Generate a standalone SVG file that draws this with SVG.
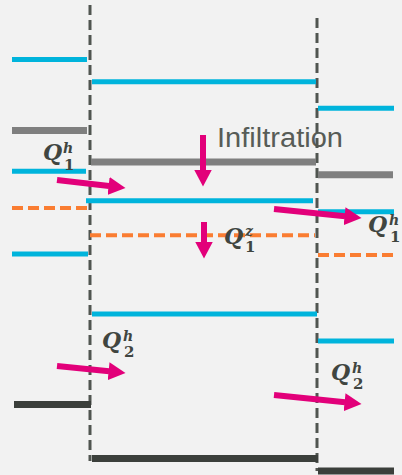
<svg xmlns="http://www.w3.org/2000/svg" width="402" height="475" viewBox="0 0 402 475">
<style>
.cy{stroke:#00B4DC;stroke-width:5;fill:none}
.gr{stroke:#7F7F7F;stroke-width:7;fill:none}
.dk{stroke:#3B3F3B;stroke-width:7;fill:none}
.or{stroke:#FA7D32;stroke-width:4;stroke-dasharray:11 5;fill:none}
.vd{stroke:#505550;stroke-width:3;stroke-dasharray:10 5;fill:none}
.ar{stroke:#E2007A;stroke-width:6;fill:none;marker-end:url(#ah)}
.q{font-family:"DejaVu Serif",serif;font-style:italic;font-weight:bold;font-size:22px;fill:#404540}
.s{font-family:"DejaVu Serif",serif;font-style:italic;font-weight:bold;font-size:14px;fill:#404540}
.n{font-family:"DejaVu Serif",serif;font-weight:bold;font-size:15px;fill:#404540}
.t{font-family:"Liberation Sans",Arial,sans-serif;font-size:27px;fill:#575C57}
</style>
<defs>
<marker id="ah" markerUnits="userSpaceOnUse" markerWidth="18" markerHeight="18" refX="0.5" refY="9" orient="auto" viewBox="0 0 18 18">
<path d="M0,0 L17,9 L0,18 z" fill="#E2007A"/>
</marker>
</defs>
<rect width="402" height="475" fill="#F2F2F2"/>
<g id="infiltration-label">
<text class="t" x="217" y="147" textLength="126" lengthAdjust="spacingAndGlyphs">Infiltration</text>
</g>
<g id="boundaries">
<line class="vd" x1="90" y1="5" x2="90" y2="461"/>
<line class="vd" x1="317" y1="18" x2="317" y2="471"/>
</g>
<g id="left-cell">
<line class="cy" x1="12" y1="59.5" x2="87" y2="59.5"/>
<line class="gr" x1="12" y1="130.5" x2="87" y2="130.5"/>
<line class="cy" x1="12" y1="171.3" x2="86" y2="171.3"/>
<line class="or" x1="12" y1="208" x2="87" y2="208"/>
<line class="cy" x1="12" y1="254" x2="88" y2="254"/>
<line class="dk" x1="14" y1="404.5" x2="91" y2="404.5"/>
</g>
<g id="middle-cell">
<line class="cy" x1="92" y1="81.7" x2="316" y2="81.7"/>
<line class="gr" x1="91" y1="162" x2="316" y2="162"/>
<line class="cy" x1="86" y1="200.7" x2="313" y2="200.7"/>
<line class="or" x1="90" y1="235.3" x2="315" y2="235.3"/>
<line class="cy" x1="92" y1="314" x2="317" y2="314"/>
<line class="dk" x1="92" y1="458.5" x2="318" y2="458.5"/>
</g>
<g id="right-cell">
<line class="cy" x1="318" y1="108.3" x2="394" y2="108.3"/>
<line class="gr" x1="318" y1="174.7" x2="393" y2="174.7"/>
<line class="cy" x1="318" y1="211.7" x2="394" y2="211.7"/>
<line class="or" x1="318" y1="255" x2="394" y2="255"/>
<line class="cy" x1="318" y1="341" x2="394" y2="341"/>
<line class="dk" x1="318" y1="471" x2="394" y2="471"/>
</g>
<g id="connectors">
<line class="ar" x1="57" y1="180" x2="109.1" y2="186"/>
<line class="ar" x1="203" y1="135" x2="203" y2="170"/>
<line class="ar" x1="204" y1="222" x2="204" y2="242"/>
<line class="ar" x1="274" y1="209" x2="345.1" y2="216.3"/>
<line class="ar" x1="57" y1="366" x2="109.1" y2="371.3"/>
<line class="ar" x1="274" y1="395" x2="345.1" y2="402.3"/>
</g>
<g id="label-q1h-left">
<text class="q" x="43" y="160">Q</text><text class="s" x="63" y="153">h</text><text class="n" x="64" y="170">1</text>
</g>
<g id="label-q1z">
<text class="q" x="224" y="244">Q</text><text class="s" x="245" y="236">z</text><text class="n" x="245" y="252">1</text>
</g>
<g id="label-q1h-right">
<text class="q" x="368" y="232">Q</text><text class="s" x="389" y="225">h</text><text class="n" x="390" y="242">1</text>
</g>
<g id="label-q2h-left">
<text class="q" x="102" y="348">Q</text><text class="s" x="123" y="341">h</text><text class="n" x="124" y="357">2</text>
</g>
<g id="label-q2h-right">
<text class="q" x="331" y="380">Q</text><text class="s" x="352" y="373">h</text><text class="n" x="353" y="389">2</text>
</g>
</svg>
